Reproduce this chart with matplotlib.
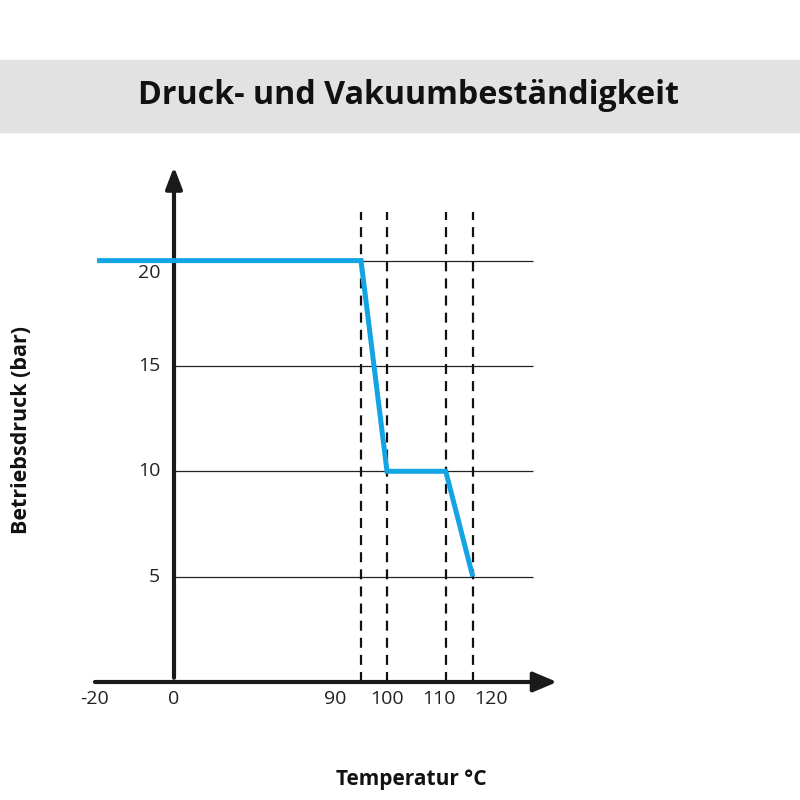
import numpy as np
import matplotlib
matplotlib.use("Agg")
import matplotlib.pyplot as plt
from matplotlib.patches import Rectangle

# ---- data ----
title = "Druck- und Vakuumbeständigkeit"
x_label = "Temperatur °C"
y_label = "Betriebsdruck (bar)"

x_ticks = [-20, 0, 90, 100, 110, 120]
x_tick_labels = ["-20", "0", "90", "100", "110", "120"]
y_ticks = [5, 10, 15, 20]
y_tick_labels = ["5", "10", "15", "20"]

temp = [-19.5, 95, 100, 111.3, 116.5]        # °C
pressure = [20, 20, 10, 10, 5]               # bar
dashed_temps = [95, 100, 111.3, 116.5]

# broken (piecewise) temperature axis
bp_temp = [-20, 0, 90, 140]
bp_pos = [0.0, 79.0, 240.0, 500.0]


def fwd(x):
    return np.interp(x, bp_temp, bp_pos)


def inv(p):
    return np.interp(p, bp_pos, bp_temp)


FONT = ["Open Sans", "DejaVu Sans"]
plt.rcParams["font.family"] = FONT

W = H = 800
fig = plt.figure(figsize=(8, 8), dpi=100)

# title band
fig.patches.append(Rectangle((0, 1 - 132 / H), 1, 72 / H, transform=fig.transFigure,
                             color="#e2e2e2", zorder=0))
fig.text(409 / W, 1 - 95 / H, title, ha="center", va="center", fontsize=23.2,
         fontweight="bold", color="#111111")

# axes: x pixel 95 -> -20 °C ; y pixel 682 -> 0 bar, 21.07 px per bar
px_per_bar = 21.07
x_left_px, x_right_px = 95, 557
y0_px = 682
ymax = 24.8
ax = fig.add_axes([x_left_px / W, 1 - y0_px / H,
                   (x_right_px - x_left_px) / W, ymax * px_per_bar / H])
ax.set_xscale("function", functions=(fwd, inv))
xmax = float(inv(x_right_px - x_left_px))
ax.set_xlim(-20, xmax)
ax.set_ylim(0, ymax)
ax.axis("off")

# grid lines
ax.hlines(y_ticks, 0, 128, color="#222222", lw=0.9, zorder=1)

# dashed verticals
ax.vlines(dashed_temps, 0, 22.3, color="#111111", lw=1.6,
          linestyles=(0, (4.5, 3.2)), zorder=2)

# axes with arrows
ax.annotate("", xy=(xmax, 0), xytext=(-20, 0),
            arrowprops=dict(arrowstyle="-|>,head_length=1.3,head_width=0.55",
                            lw=3, color="#1a1a1a", shrinkA=0, shrinkB=0,
                            mutation_scale=11),
            annotation_clip=False, zorder=3)
ax.annotate("", xy=(0, 24.45), xytext=(0, 0.2),
            arrowprops=dict(arrowstyle="-|>,head_length=1.3,head_width=0.5",
                            lw=3, color="#1a1a1a", shrinkA=0, shrinkB=0,
                            mutation_scale=10),
            annotation_clip=False, zorder=3)

# data line
ax.plot(temp, pressure, color="#13a5e3", lw=3.6, solid_joinstyle="miter",
        solid_capstyle="butt", zorder=4, clip_on=False)

# tick labels
for v, s in zip(y_ticks, y_tick_labels):
    dy = -9 if v == 20 else 0
    ax.annotate(s, xy=(0, v), xytext=(-10, dy), textcoords="offset points",
                ha="right", va="center", fontsize=14, color="#222222",
                annotation_clip=False)
for v, s in zip(x_ticks, x_tick_labels):
    ax.annotate(s, xy=(v, 0), xytext=(0, -12.5), textcoords="offset points",
                ha="center", va="center", fontsize=14, color="#222222",
                annotation_clip=False)

# axis titles
fig.text(22 / W, 1 - 430 / H, y_label, rotation=90, ha="center", va="center",
         fontsize=15.5, fontweight="bold", color="#111111")
fig.text(411 / W, 1 - 779 / H, x_label, ha="center", va="center",
         fontsize=15, fontweight="bold", color="#111111")

fig.savefig("out.png", dpi=100, facecolor="white")
